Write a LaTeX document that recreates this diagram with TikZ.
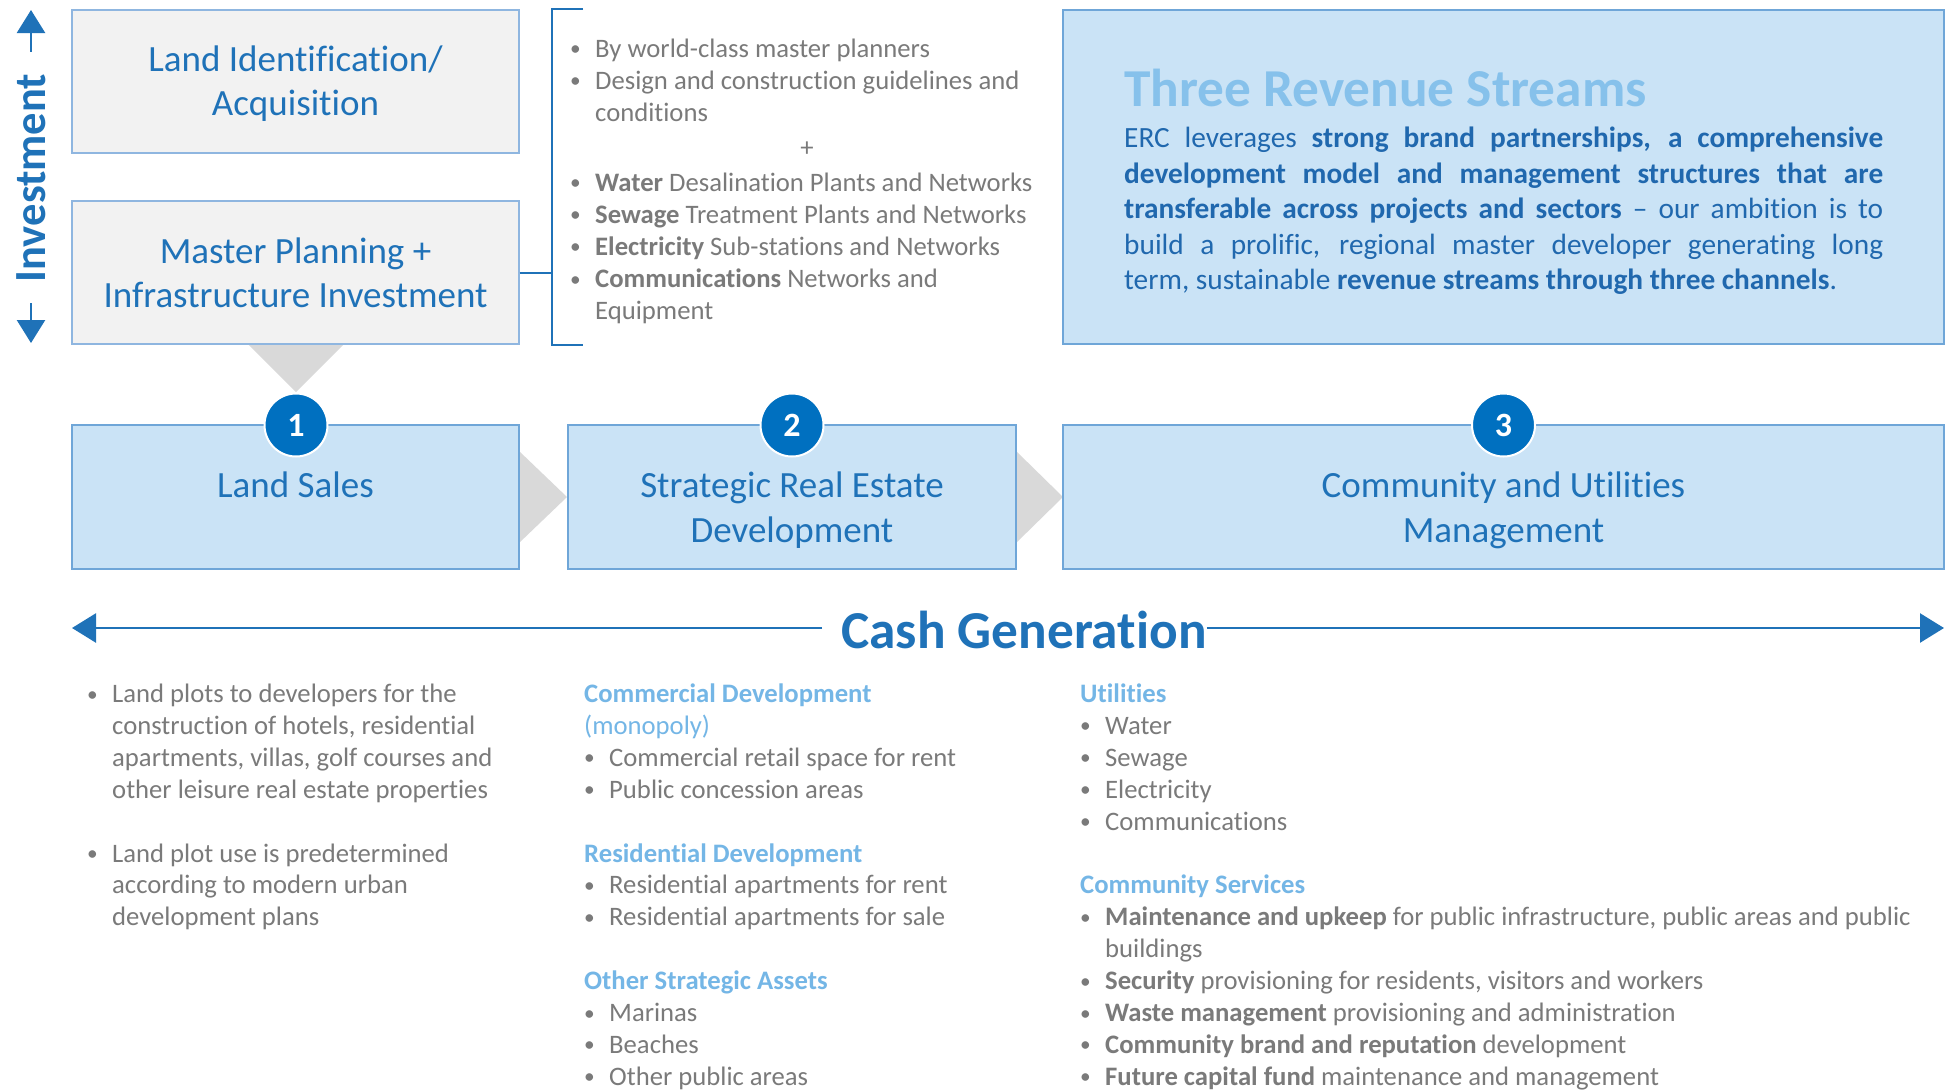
\documentclass[tikz,border=0pt]{standalone}
\usepackage{fontspec}
\setmainfont{Carlito}[Ligatures=NoCommon]
\usetikzlibrary{arrows.meta}
\definecolor{mainblue}{HTML}{1F72B8}
\definecolor{parablue}{HTML}{2068AE}
\definecolor{circblue}{HTML}{0070C0}
\definecolor{lightfill}{HTML}{CAE3F6}
\definecolor{lightedge}{HTML}{6FA6D8}
\definecolor{grayfill}{HTML}{F2F2F2}
\definecolor{grayedge}{HTML}{8FB6E0}
\definecolor{titleblue}{HTML}{86C1EB}
\definecolor{headblue}{HTML}{74B6E6}
\definecolor{txtgray}{HTML}{7A7A7A}
\definecolor{chevgray}{HTML}{D9D9D9}
\newcommand\fsz[2]{\fontsize{#1}{#2}\selectfont}
\newcommand\bul{\makebox[25pt][l]{\raisebox{1.5pt}{\scalebox{0.8}{•}}}}
\newcommand\ind{\hspace*{25pt}}
\newcommand\hd[1]{\textcolor{headblue}{\textbf{#1}}}
\newcommand\jl[1]{\makebox[759pt][s]{#1}}
\begin{document}
\begin{tikzpicture}[x=1pt,y=-1pt,
  graybox/.style={draw=grayedge, fill=grayfill, line width=1.2pt, minimum width=447pt, minimum height=143pt, inner sep=0pt},
  bluebox/.style={draw=lightedge, fill=lightfill, line width=1.2pt, inner sep=0pt},
  boxtxt/.style={inner sep=0pt, anchor=base, text=mainblue, font=\fsz{37}{44}},
  rowtxt/.style={inner sep=0pt, anchor=base, text=mainblue, font=\fsz{37}{45}},
  numcirc/.style={circle, fill=circblue, draw=white, line width=2pt, minimum size=63pt, inner sep=0pt, text=white, font=\fsz{34}{40}\bfseries},
  chev/.style={fill=chevgray, draw=none},
  body/.style={inner sep=0pt, anchor=base west, text=txtgray, font=\fsz{26.67}{31.9}},
  bluearr/.style={draw=mainblue, line width=2.5pt, -{Triangle[width=29pt,length=24pt]}},
  brk/.style={draw=mainblue, line width=2pt},
]
\useasboundingbox (0,0) rectangle (1948,1090);
\fill[white] (0,0) rectangle (1948,1090);

% chevrons
\fill[chev] (248,344) -- (344,344) -- (296,392) -- cycle;
\fill[chev] (519,451) -- (567,497) -- (519,543) -- cycle;
\fill[chev] (1016,451) -- (1063,497) -- (1016,543) -- cycle;

% boxes
\node[graybox] (landid) at (295.5,81.5) {};
\node[graybox] (master) at (295.5,272.5) {};
\node[bluebox, minimum width=881pt, minimum height=334pt] (rev) at (1503.5,177) {};
\node[bluebox, minimum width=447pt, minimum height=144pt] (sales) at (295.5,497) {};
\node[bluebox, minimum width=448pt, minimum height=144pt] (dev) at (792,497) {};
\node[bluebox, minimum width=881pt, minimum height=144pt] (comm) at (1503.5,497) {};

% box texts
\node[boxtxt] (landidT) at (295.5,71) {\begin{tabular}[t]{@{}c@{}}Land Identification/\\Acquisition\end{tabular}};
\node[boxtxt] (masterT) at (295.5,263) {\begin{tabular}[t]{@{}c@{}}Master Planning +\\Infrastructure Investment\end{tabular}};
\node[rowtxt] (salesT) at (295.5,497) {Land Sales};
\node[rowtxt] (devT) at (792,497) {\begin{tabular}[t]{@{}c@{}}Strategic Real Estate\\Development\end{tabular}};
\node[rowtxt] (commT) at (1503.5,497) {\begin{tabular}[t]{@{}c@{}}Community and Utilities\\Management\end{tabular}};

% number circles
\node[numcirc] (c1) at (296,425) {1};
\node[numcirc] (c2) at (792,425) {2};
\node[numcirc] (c3) at (1503.5,425) {3};

% Investment arrow
\node[inner sep=0pt, rotate=90, text=mainblue, font=\fsz{44.5}{50}\bfseries] (inv) at (31,178) {Investment};
\coordinate (invT) at (31,10);
\coordinate (invB) at (31,343);
\draw[draw=mainblue, line width=2.5pt, -{Triangle[width=28pt,length=23pt]}, shorten <=22pt] (inv.east) -- (invT);
\draw[draw=mainblue, line width=2.5pt, -{Triangle[width=28pt,length=23pt]}, shorten <=21pt] (inv.west) -- (invB);

% Cash generation arrow
\node[inner sep=0pt, text=mainblue, font=\fsz{53.33}{60}\bfseries, text height=40pt, text depth=0pt] (cash) at (1024,628) {Cash Generation};
\coordinate (cashL) at (72,628);
\coordinate (cashR) at (1944,628);
\draw[bluearr, shorten <=19pt] (cash.west) -- (cashL);
\draw[bluearr] (cash.east) -- (cashR);

% bracket
\coordinate (brkM) at (552,272.5);
\draw[brk] (583,9) -- (552,9) -- (552,345) -- (583,345);
\draw[brk] (master.east) -- (brkM);

% top middle list
\node[body, font=\fsz{26.67}{32.2}] (invlist) at (570,57) {\begin{tabular}[t]{@{}l@{}}
\bul By world-class master planners\\
\bul Design and construction guidelines and\\
\ind conditions\\
\\[5.2pt]
\bul \textbf{Water} Desalination Plants and Networks\\
\bul \textbf{Sewage} Treatment Plants and Networks\\
\bul \textbf{Electricity} Sub-stations and Networks\\
\bul \textbf{Communications} Networks and\\
\ind Equipment
\end{tabular}};
\node[text=txtgray, font=\fsz{26.67}{32}, inner sep=0pt] (plus) at (807,149) {+};

% revenue box text
\node[inner sep=0pt, anchor=base west, text=titleblue, font=\fsz{53.33}{60}\bfseries] (revT) at (1124,106) {Three Revenue Streams};
\node[inner sep=0pt, anchor=base west, text=parablue, font=\fsz{29.33}{35.5}] (revP) at (1124,147.5) {\begin{tabular}[t]{@{}l@{}}
\jl{ERC leverages \textbf{strong brand partnerships, a comprehensive}}\\
\jl{\textbf{development model and management structures that are}}\\
\jl{\textbf{transferable across projects and sectors} – our ambition is to}\\
\jl{build a prolific, regional master developer generating long}\\
term, sustainable \textbf{revenue streams through three channels}.
\end{tabular}};

% bottom columns
\node[body] (col1) at (87,702.5) {\begin{tabular}[t]{@{}l@{}}
\bul Land plots to developers for the\\
\ind construction of hotels, residential\\
\ind apartments, villas, golf courses and\\
\ind other leisure real estate properties\\
\\
\bul Land plot use is predetermined\\
\ind according to modern urban\\
\ind development plans
\end{tabular}};

\node[body] (col2) at (584,702.5) {\begin{tabular}[t]{@{}l@{}}
\hd{Commercial Development}\\
\textcolor{headblue}{(monopoly)}\\
\bul Commercial retail space for rent\\
\bul Public concession areas\\
\\
\hd{Residential Development}\\
\bul Residential apartments for rent\\
\bul Residential apartments for sale\\
\\
\hd{Other Strategic Assets}\\
\bul Marinas\\
\bul Beaches\\
\bul Other public areas
\end{tabular}};

\node[body] (col3) at (1080,702.5) {\begin{tabular}[t]{@{}l@{}}
\hd{Utilities}\\
\bul Water\\
\bul Sewage\\
\bul Electricity\\
\bul Communications\\
\\
\hd{Community Services}\\
\bul \textbf{Maintenance and upkeep} for public infrastructure, public areas and public\\
\ind buildings\\
\bul \textbf{Security} provisioning for residents, visitors and workers\\
\bul \textbf{Waste management} provisioning and administration\\
\bul \textbf{Community brand and reputation} development\\
\bul \textbf{Future capital fund} maintenance and management
\end{tabular}};
\end{tikzpicture}
\end{document}
